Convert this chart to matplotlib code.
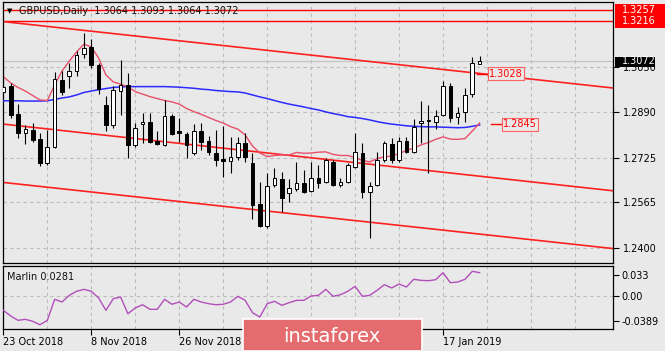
import numpy as np
import matplotlib.pyplot as plt
from matplotlib.patches import Rectangle

# GBPUSD daily, 23 Oct 2018 .. 24 Jan 2019 (bar index = position)
opens = [1.2963, 1.2983, 1.2881, 1.2815, 1.2825, 1.2792, 1.2705, 1.2763, 1.3005, 1.3019,
         1.3038, 1.3097, 1.3124, 1.3059, 1.2915, 1.2843, 1.2966, 1.2987, 1.2771, 1.2845,
         1.2853, 1.2786, 1.2771, 1.2875, 1.2822, 1.2810, 1.2741, 1.2821, 1.2785, 1.2741,
         1.2720, 1.2713, 1.2729, 1.2779, 1.2705, 1.2558, 1.2479, 1.2627, 1.2647, 1.2597,
         1.2611, 1.2635, 1.2606, 1.2651, 1.2639, 1.2711, 1.2627, 1.2637, 1.2693, 1.2743,
         1.2601, 1.2627, 1.2717, 1.2774, 1.2717, 1.2786, 1.2747, 1.2851, 1.2861, 1.2855,
         1.2879, 1.2983, 1.2873, 1.2891, 1.2954, 1.3064]
highs = [1.3048, 1.2993, 1.2918, 1.2843, 1.2851, 1.2813, 1.2825, 1.3035, 1.3038, 1.3065,
         1.3110, 1.3174, 1.3152, 1.3065, 1.2947, 1.2983, 1.3077, 1.3029, 1.2849, 1.2885,
         1.2886, 1.2822, 1.2933, 1.2882, 1.2867, 1.2819, 1.2846, 1.2849, 1.2803, 1.2825,
         1.2839, 1.2801, 1.2799, 1.2813, 1.2741, 1.2639, 1.2669, 1.2687, 1.2675, 1.2647,
         1.2711, 1.2681, 1.2711, 1.2699, 1.2723, 1.2717, 1.2651, 1.2707, 1.2815, 1.2777,
         1.2639, 1.2747, 1.2786, 1.2795, 1.2799, 1.2799, 1.2863, 1.2930, 1.2915, 1.2897,
         1.3002, 1.2995, 1.2907, 1.2975, 1.3086, 1.3093]
lows = [1.2958, 1.2867, 1.2795, 1.2774, 1.2783, 1.2695, 1.2699, 1.2759, 1.2951, 1.2975,
        1.3019, 1.3083, 1.3048, 1.2954, 1.2822, 1.2832, 1.2879, 1.2723, 1.2763, 1.2777,
        1.2779, 1.2771, 1.2767, 1.2807, 1.2783, 1.2723, 1.2735, 1.2753, 1.2735, 1.2695,
        1.2657, 1.2669, 1.2717, 1.2711, 1.2503, 1.2477, 1.2471, 1.2621, 1.2531, 1.2567,
        1.2606, 1.2599, 1.2603, 1.2615, 1.2633, 1.2623, 1.2619, 1.2633, 1.2687, 1.2579,
        1.2435, 1.2623, 1.2711, 1.2705, 1.2711, 1.2741, 1.2741, 1.2779, 1.2671, 1.2827,
        1.2875, 1.2855, 1.2846, 1.2855, 1.2945, 1.3064]
closes = [1.2981, 1.2879, 1.2813, 1.2828, 1.2789, 1.2705, 1.2763, 1.3007, 1.2961, 1.3038,
          1.3095, 1.3121, 1.3059, 1.2971, 1.2843, 1.2969, 1.2987, 1.2771, 1.2831, 1.2855,
          1.2783, 1.2774, 1.2875, 1.2810, 1.2815, 1.2771, 1.2821, 1.2783, 1.2747, 1.2717,
          1.2713, 1.2729, 1.2779, 1.2729, 1.2555, 1.2479, 1.2623, 1.2651, 1.2581, 1.2615,
          1.2633, 1.2603, 1.2651, 1.2633, 1.2717, 1.2627, 1.2639, 1.2699, 1.2747, 1.2603,
          1.2624, 1.2717, 1.2777, 1.2717, 1.2786, 1.2747, 1.2835, 1.2858, 1.2856, 1.2876,
          1.2983, 1.2867, 1.2887, 1.2951, 1.3065, 1.3072]

# moving averages (blue = slow, pink = fast)
ma_slow = [1.2930, 1.2930, 1.2930, 1.2929, 1.2929, 1.2929, 1.2930, 1.2935, 1.2940, 1.2944,
           1.2951, 1.2960, 1.2965, 1.2970, 1.2974, 1.2978, 1.2980, 1.2981, 1.2981, 1.2981,
           1.2981, 1.2981, 1.2981, 1.2980, 1.2979, 1.2977, 1.2975, 1.2972, 1.2970, 1.2967,
           1.2965, 1.2963, 1.2962, 1.2958, 1.2951, 1.2944, 1.2938, 1.2931, 1.2924, 1.2918,
           1.2913, 1.2908, 1.2902, 1.2897, 1.2890, 1.2884, 1.2879, 1.2873, 1.2870, 1.2866,
           1.2861, 1.2855, 1.2850, 1.2846, 1.2843, 1.2840, 1.2838, 1.2837, 1.2836, 1.2836,
           1.2835, 1.2834, 1.2833, 1.2834, 1.2838, 1.2843]
ma_fast = [1.3017, 1.2994, 1.2978, 1.2965, 1.2949, 1.2933, 1.2931, 1.2987, 1.3037, 1.3073,
           1.3106, 1.3134, 1.3124, 1.3084, 1.3023, 1.2998, 1.2990, 1.2980, 1.2963, 1.2954,
           1.2945, 1.2938, 1.2931, 1.2926, 1.2918, 1.2902, 1.2891, 1.2881, 1.2870, 1.2859,
           1.2850, 1.2837, 1.2828, 1.2807, 1.2767, 1.2742, 1.2729, 1.2733, 1.2735, 1.2735,
           1.2744, 1.2741, 1.2742, 1.2745, 1.2746, 1.2737, 1.2733, 1.2733, 1.2726, 1.2715,
           1.2710, 1.2722, 1.2728, 1.2731, 1.2740, 1.2751, 1.2760, 1.2771, 1.2780, 1.2791,
           1.2800, 1.2792, 1.2791, 1.2794, 1.2821, 1.2850]

marlin = [-0.0225, -0.0314, -0.0382, -0.0366, -0.0397, -0.0451, -0.0382, -0.0052, -0.0094, 0.0011,
          0.0074, 0.0105, 0.0074, -0.0031, -0.0225, -0.0042, -0.0016, -0.0278, -0.0188, -0.0137,
          -0.0209, -0.0209, -0.0052, -0.0130, -0.0094, -0.0173, -0.0052, -0.0094, -0.0121, -0.0137,
          -0.0130, -0.0094, -0.0005, -0.0068, -0.0262, -0.0330, -0.0121, -0.0083, -0.0146, -0.0105,
          -0.0068, -0.0068, 0.0000, 0.0011, 0.0105, -0.0005, 0.0020, 0.0074, 0.0152, -0.0005,
          0.0011, 0.0089, 0.0177, 0.0126, 0.0188, 0.0141, 0.0262, 0.0246, 0.0240, 0.0256,
          0.0366, 0.0209, 0.0220, 0.0262, 0.0388, 0.0366]

date_ticks = [0, 12, 24, 60]
date_labels = ['23 Oct 2018', '8 Nov 2018', '26 Nov 2018', '17 Jan 2019']
price_ticks = [1.2400, 1.2565, 1.2725, 1.2890, 1.3050]
price_labels = ['1.2400', '1.2565', '1.2725', '1.2890', '1.3050']
marlin_ticks = [-0.0389, 0.0, 0.033]
marlin_labels = ['-0.0389', '0.00', '0.033']

levels = [1.3257, 1.3216]
last_price = 1.3072
channel_x = [0, 83.2]
channel_top = [1.3215, 1.2976]
channel_mid = [1.2846, 1.2606]
channel_low = [1.2636, 1.2398]
tag_top = 1.3028
tag_ma = 1.2845

BG = '#E9E9E9'
FS = 7
plt.rcParams['font.family'] = 'DejaVu Sans'

fig = plt.figure(figsize=(6.65, 3.51), dpi=100, facecolor=BG)
W, H = 665, 351
ax = fig.add_axes([3 / W, 1 - 263 / H, 610 / W, 261 / H], facecolor=BG)
ax2 = fig.add_axes([3 / W, 1 - 329 / H, 610 / W, 63 / H], facecolor=BG)

n = len(opens)
x = np.arange(n)
xmin, xmax = -0.05, 83.2

grid_kw = dict(color='#BBBBBB', lw=0.8, ls=(0, (3, 3)), zorder=0)
for gx in range(6, 84, 6):
    ax.axvline(gx, **grid_kw)
    ax2.axvline(gx, **grid_kw)
for gy in price_ticks:
    ax.axhline(gy, **grid_kw)
ax2.axhline(0.0, **grid_kw)

# levels, current price
for lv in levels:
    ax.axhline(lv, color='red', lw=1, zorder=2)
ax.axhline(last_price, color='#C4C4C4', lw=0.9, zorder=1)

# channel
for ch in (channel_top, channel_mid, channel_low):
    ax.plot(channel_x, ch, color='#FF2020', lw=1.2, zorder=2)

# moving averages
ax.plot(x, ma_slow, color='#2B2BFF', lw=1.1, zorder=3)
ax.plot(x, ma_fast, color='#E8506A', lw=1.0, zorder=3)

# candles
o = np.array(opens); c = np.array(closes)
bottom = np.minimum(o, c)
height = np.maximum(np.abs(c - o), 0.00012)
ax.vlines(x, lows, highs, color='black', lw=0.8, zorder=4)
ax.bar(x, height, bottom=bottom, width=0.5,
       color=['white' if cc >= oo else 'black' for oo, cc in zip(o, c)],
       edgecolor='black', linewidth=0.7, zorder=5)

# tags
ax.plot([64.6, 66.1], [tag_top, tag_top], color='red', lw=1, zorder=6)
ax.text(66.3, tag_top, f'{tag_top:.4f}', color='red', fontsize=FS, va='center', ha='left',
        zorder=7, bbox=dict(boxstyle='square,pad=0.15', fc=BG, ec='#FF6060', lw=0.8))
ax.plot([66.5, 68.0], [tag_ma, tag_ma], color='red', lw=1, zorder=6)
ax.text(68.2, tag_ma, f'{tag_ma:.4f}', color='red', fontsize=FS, va='center', ha='left',
        zorder=7, bbox=dict(boxstyle='square,pad=0.15', fc=BG, ec='#FF6060', lw=0.8))

ax.set_xlim(xmin, xmax)
ax.set_ylim(1.2346, 1.32856)
ax.set_xticks([])
ax.yaxis.tick_right()
ax.set_yticks(price_ticks)
ax.set_yticklabels(price_labels)
ax.tick_params(axis='y', direction='out', length=4, width=0.8, pad=3, labelsize=FS,
               colors='black')
for sp in ax.spines.values():
    sp.set_color('black')
    sp.set_linewidth(0.9)

# right axis price boxes
yt = ax.get_yaxis_transform()
ax.add_patch(Rectangle((1.003, 1.3192), 0.09, 1.32784 - 1.3192, transform=yt,
                       fc='red', ec='none', clip_on=False, zorder=8))
for lv in levels:
    ax.text(1.014, lv, f'{lv:.4f}', transform=yt, color='white', fontsize=FS,
            va='center', ha='left', zorder=9, clip_on=False)
ax.add_patch(Rectangle((1.003, 1.30527), 0.066, 1.30887 - 1.30527, transform=yt,
                       fc='black', ec='none', clip_on=False, zorder=8))
ax.text(1.014, last_price, f'{last_price:.4f}', transform=yt, color='white', fontsize=FS,
        va='center', ha='left', zorder=9, clip_on=False)

ax.text(0.006, 0.966, '\u25BC', transform=ax.transAxes, fontsize=5, va='center', ha='left')
ax.text(0.027, 0.966, 'GBPUSD,Daily  1.3064 1.3093 1.3064 1.3072', transform=ax.transAxes,
        fontsize=FS, va='center', ha='left', color='#111111')

# Marlin panel
ax2.plot(x, marlin, color='#B24FBA', lw=1.0, zorder=3)
ax2.set_xlim(xmin, xmax)
ax2.set_ylim(-0.0518, 0.0471)
ax2.yaxis.tick_right()
ax2.set_yticks(marlin_ticks)
ax2.set_yticklabels(marlin_labels)
ax2.set_xticks(date_ticks)
ax2.set_xticklabels(date_labels)
for lbl in ax2.get_xticklabels():
    lbl.set_horizontalalignment('left')
ax2.tick_params(axis='both', direction='out', length=4, width=0.8, pad=2, labelsize=FS,
                colors='black')
for sp in ax2.spines.values():
    sp.set_color('black')
    sp.set_linewidth(0.9)
ax2.text(0.006, 0.83, 'Marlin 0.0281', transform=ax2.transAxes, fontsize=FS,
         va='center', ha='left', color='#111111')

# watermark
fig.patches.append(Rectangle((243 / W, 0), 179 / W, 32 / H, transform=fig.transFigure,
                             fc='#E46C6E', ec='white', lw=1.2, zorder=10))
fig.text(332 / W, 15 / H, 'instaforex', color='white', fontsize=14, ha='center',
         va='center', zorder=11)

fig.savefig('out.png', dpi=100, facecolor=BG)
